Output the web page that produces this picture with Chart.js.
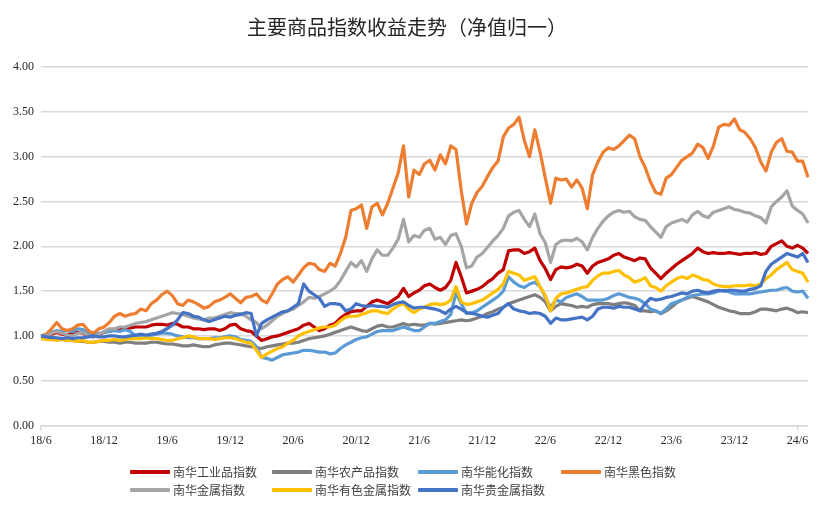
<!DOCTYPE html>
<html><head><meta charset="utf-8">
<script src="https://cdn.jsdelivr.net/npm/chart.js@4"></script>
<style>
html,body{margin:0;padding:0;background:#fff;}
#wrap{position:relative;width:831px;height:514px;overflow:hidden;}
#legend{position:absolute;left:0;top:0;width:831px;height:514px;pointer-events:none;font-family:"Noto Sans CJK SC","Noto Sans",sans-serif;font-size:12px;color:#404040;}
.item{position:absolute;display:flex;align-items:center;white-space:nowrap;height:16px;line-height:16px;}
.swatch{width:40px;height:4px;margin-right:3px;border-radius:1px;}
</style></head>
<body><div id="wrap"><canvas id="c" width="831" height="514"></canvas><div id="legend"></div></div>
<script>
// ---- data (semi-monthly, 2018-06 .. 2024-07, normalised NAV) ----
const startYear = 2018, startMonth = 6, pointCount = 147;
const tickEvery = 12; // one tick label every 6 months

const seriesNames = ["南华工业品指数","南华农产品指数","南华能化指数","南华黑色指数","南华金属指数","南华有色金属指数","南华贵金属指数"];
const seriesColors = ["#C00000","#7F7F7F","#5B9BD5","#ED7D31","#A5A5A5","#FFC000","#4472C4"];

const industrial = [1.00,1.00,1.02,1.04,1.02,1.01,1.03,1.04,1.03,1.00,
 0.99,1.02,1.04,1.06,1.07,1.08,1.08,1.09,1.10,1.10,
 1.10,1.12,1.13,1.13,1.12,1.14,1.13,1.10,1.10,1.08,
 1.08,1.07,1.08,1.08,1.06,1.08,1.12,1.13,1.08,1.06,
 1.05,1.00,0.95,0.97,0.99,1.00,1.02,1.04,1.06,1.08,
 1.12,1.14,1.10,1.06,1.08,1.12,1.14,1.20,1.24,1.27,
 1.28,1.28,1.33,1.38,1.40,1.38,1.36,1.40,1.44,1.53,
 1.44,1.48,1.51,1.56,1.58,1.54,1.51,1.54,1.62,1.82,
 1.66,1.48,1.50,1.52,1.55,1.60,1.64,1.70,1.74,1.95,
 1.96,1.96,1.92,1.94,1.98,1.84,1.75,1.63,1.74,1.77,
 1.76,1.77,1.80,1.78,1.70,1.78,1.82,1.84,1.86,1.90,
 1.92,1.88,1.86,1.84,1.87,1.86,1.76,1.70,1.64,1.70,
 1.75,1.80,1.84,1.88,1.92,1.98,1.94,1.92,1.93,1.92,
 1.92,1.93,1.92,1.91,1.92,1.92,1.93,1.91,1.92,2.00,
 2.03,2.06,2.00,1.98,2.01,1.98,1.92];

const agri = [0.97,0.98,0.99,0.97,0.96,0.95,0.95,0.94,0.94,0.93,
 0.93,0.94,0.94,0.93,0.93,0.92,0.93,0.93,0.92,0.92,
 0.92,0.93,0.93,0.92,0.91,0.91,0.90,0.89,0.89,0.90,
 0.89,0.88,0.88,0.90,0.91,0.92,0.92,0.91,0.90,0.89,
 0.88,0.87,0.86,0.88,0.89,0.90,0.91,0.92,0.92,0.93,
 0.95,0.97,0.98,0.99,1.00,1.02,1.04,1.06,1.08,1.10,
 1.08,1.06,1.05,1.08,1.11,1.12,1.10,1.10,1.12,1.14,
 1.12,1.13,1.12,1.12,1.14,1.13,1.14,1.15,1.16,1.17,
 1.18,1.17,1.18,1.20,1.22,1.25,1.27,1.30,1.32,1.36,
 1.38,1.40,1.42,1.44,1.46,1.43,1.38,1.28,1.33,1.36,
 1.35,1.34,1.32,1.33,1.32,1.35,1.36,1.36,1.36,1.35,
 1.36,1.37,1.36,1.34,1.28,1.28,1.27,1.28,1.25,1.28,
 1.32,1.37,1.40,1.42,1.44,1.42,1.40,1.38,1.35,1.32,
 1.30,1.28,1.27,1.25,1.25,1.25,1.27,1.30,1.30,1.29,
 1.28,1.30,1.31,1.29,1.26,1.27,1.26];

const energyChem = [1.00,1.02,1.04,1.06,1.05,1.06,1.05,1.08,1.07,1.04,
 1.02,1.03,1.04,1.05,1.06,1.05,1.07,1.05,1.00,1.00,
 1.00,1.01,1.02,1.03,1.03,1.02,1.00,0.99,0.98,0.98,
 0.97,0.97,0.97,0.98,0.98,0.99,1.00,0.99,0.96,0.95,
 0.94,0.88,0.76,0.75,0.73,0.76,0.79,0.80,0.81,0.82,
 0.84,0.84,0.83,0.82,0.82,0.80,0.81,0.86,0.90,0.93,
 0.96,0.98,0.99,1.02,1.05,1.06,1.06,1.06,1.08,1.10,
 1.08,1.06,1.06,1.10,1.14,1.14,1.16,1.18,1.24,1.48,
 1.36,1.25,1.26,1.28,1.32,1.36,1.40,1.44,1.50,1.66,
 1.60,1.56,1.54,1.58,1.60,1.55,1.43,1.32,1.40,1.38,
 1.43,1.45,1.47,1.44,1.40,1.40,1.40,1.40,1.42,1.45,
 1.47,1.45,1.43,1.42,1.40,1.36,1.30,1.28,1.25,1.30,
 1.36,1.38,1.40,1.43,1.45,1.46,1.47,1.47,1.48,1.50,
 1.51,1.49,1.47,1.47,1.47,1.47,1.48,1.49,1.50,1.51,
 1.51,1.53,1.54,1.50,1.49,1.50,1.42];

const black = [1.00,1.02,1.08,1.15,1.08,1.06,1.08,1.12,1.13,1.06,
 1.03,1.08,1.10,1.15,1.22,1.25,1.22,1.24,1.25,1.30,
 1.28,1.36,1.40,1.46,1.50,1.45,1.36,1.34,1.40,1.38,
 1.35,1.31,1.33,1.38,1.40,1.43,1.47,1.42,1.37,1.43,
 1.44,1.47,1.40,1.37,1.47,1.58,1.63,1.66,1.60,1.68,
 1.76,1.81,1.80,1.74,1.72,1.81,1.78,1.92,2.10,2.40,
 2.42,2.46,2.20,2.44,2.48,2.35,2.48,2.65,2.82,3.12,
 2.55,2.85,2.80,2.92,2.96,2.85,3.02,2.92,3.12,3.08,
 2.62,2.25,2.48,2.60,2.67,2.78,2.88,2.95,3.22,3.32,
 3.36,3.44,3.18,3.00,3.30,3.05,2.76,2.48,2.76,2.74,
 2.75,2.66,2.74,2.65,2.42,2.80,2.94,3.05,3.10,3.08,
 3.12,3.18,3.24,3.20,3.00,2.88,2.72,2.60,2.58,2.76,
 2.80,2.88,2.96,3.00,3.04,3.14,3.10,2.98,3.12,3.33,
 3.36,3.35,3.42,3.30,3.27,3.20,3.10,2.94,2.84,3.05,
 3.16,3.20,3.06,3.05,2.95,2.95,2.77];

const metals = [1.00,1.00,1.03,1.05,1.03,1.01,1.00,1.03,1.04,1.00,
 0.99,1.02,1.05,1.08,1.08,1.10,1.10,1.12,1.14,1.15,
 1.16,1.18,1.20,1.22,1.24,1.26,1.25,1.24,1.22,1.20,
 1.19,1.18,1.20,1.20,1.22,1.24,1.26,1.25,1.25,1.22,
 1.18,1.15,1.08,1.12,1.17,1.22,1.25,1.28,1.30,1.34,
 1.38,1.43,1.42,1.44,1.47,1.50,1.54,1.62,1.72,1.82,
 1.77,1.84,1.72,1.86,1.96,1.90,1.90,1.98,2.08,2.30,
 2.05,2.12,2.10,2.18,2.20,2.08,2.10,2.02,2.12,2.14,
 2.00,1.76,1.78,1.88,1.92,1.99,2.06,2.12,2.20,2.34,
 2.38,2.40,2.30,2.22,2.36,2.14,2.04,1.82,2.02,2.06,
 2.07,2.06,2.09,2.05,1.96,2.10,2.20,2.28,2.34,2.38,
 2.40,2.38,2.39,2.33,2.30,2.29,2.22,2.16,2.10,2.22,
 2.26,2.28,2.30,2.27,2.35,2.39,2.34,2.32,2.38,2.40,
 2.42,2.44,2.41,2.40,2.38,2.37,2.34,2.32,2.26,2.44,
 2.50,2.55,2.62,2.45,2.40,2.36,2.26];

const nonferrous = [0.97,0.96,0.96,0.95,0.96,0.95,0.95,0.94,0.95,0.93,
 0.93,0.94,0.95,0.95,0.96,0.95,0.96,0.97,0.97,0.97,
 0.98,0.97,0.97,0.96,0.95,0.95,0.97,0.98,1.00,0.99,
 0.97,0.97,0.97,0.96,0.97,0.98,0.98,0.97,0.95,0.93,
 0.92,0.84,0.76,0.80,0.83,0.86,0.88,0.92,0.95,1.00,
 1.03,1.05,1.07,1.09,1.10,1.10,1.12,1.17,1.21,1.22,
 1.22,1.24,1.26,1.28,1.28,1.26,1.25,1.30,1.34,1.36,
 1.30,1.26,1.30,1.32,1.35,1.36,1.35,1.36,1.40,1.55,
 1.38,1.35,1.36,1.38,1.40,1.44,1.48,1.52,1.58,1.72,
 1.70,1.68,1.62,1.64,1.66,1.55,1.45,1.28,1.42,1.47,
 1.48,1.50,1.52,1.54,1.55,1.62,1.67,1.70,1.70,1.72,
 1.73,1.68,1.65,1.60,1.62,1.65,1.56,1.54,1.50,1.56,
 1.60,1.64,1.66,1.64,1.68,1.66,1.63,1.62,1.58,1.56,
 1.55,1.55,1.56,1.56,1.56,1.57,1.56,1.58,1.64,1.68,
 1.74,1.78,1.82,1.74,1.72,1.70,1.60];

const precious = [1.00,0.99,0.98,0.98,0.97,0.98,0.97,0.98,0.98,0.99,
 1.00,0.99,0.99,1.00,1.00,0.99,0.99,1.00,1.01,1.02,
 1.01,1.02,1.03,1.05,1.08,1.12,1.18,1.26,1.25,1.22,
 1.21,1.18,1.16,1.18,1.20,1.22,1.21,1.23,1.24,1.26,
 1.25,1.00,1.14,1.18,1.21,1.24,1.27,1.28,1.32,1.36,
 1.58,1.50,1.46,1.42,1.33,1.36,1.36,1.35,1.28,1.30,
 1.36,1.34,1.33,1.34,1.33,1.33,1.32,1.35,1.37,1.38,
 1.34,1.31,1.32,1.32,1.31,1.30,1.28,1.25,1.30,1.33,
 1.30,1.26,1.25,1.24,1.22,1.21,1.23,1.25,1.32,1.36,
 1.30,1.28,1.27,1.25,1.26,1.25,1.22,1.14,1.20,1.18,
 1.18,1.19,1.20,1.21,1.18,1.22,1.30,1.32,1.32,1.31,
 1.33,1.32,1.32,1.30,1.28,1.36,1.42,1.40,1.41,1.43,
 1.44,1.46,1.48,1.47,1.50,1.51,1.49,1.48,1.50,1.51,
 1.50,1.51,1.51,1.50,1.50,1.52,1.53,1.56,1.72,1.80,
 1.84,1.88,1.92,1.90,1.88,1.92,1.82];

const seriesValues = [industrial, agri, energyChem, black, metals, nonferrous, precious];

// category labels: semi-monthly dates
const labels = [];
for (let k = 0; k < pointCount; k++) {
  const m0 = startMonth - 1 + Math.floor(k / 2);
  const y = startYear + Math.floor(m0 / 12);
  const m = (m0 % 12) + 1;
  labels.push(y + "-" + String(m).padStart(2, "0") + "-" + (k % 2 ? "16" : "01"));
}
function shortLabel(s) { const p = s.split("-"); return p[0].slice(2) + "/" + parseInt(p[1], 10); }

const datasets = seriesNames.map((name, i) => ({
  label: name,
  data: seriesValues[i],
  borderColor: seriesColors[i],
  backgroundColor: seriesColors[i],
  borderWidth: 3.2,
  pointRadius: 0,
  tension: 0,
  fill: false,
  borderJoinStyle: "round",
  order: seriesNames.length - i
}));

const tickFont = { family: "'Liberation Serif', 'Times New Roman', serif", size: 12 };

const chart = new Chart(document.getElementById("c"), {
  type: "line",
  data: { labels, datasets },
  options: {
    responsive: false,
    animation: false,
    devicePixelRatio: 1,
    layout: { padding: { left: 6, right: 23, top: 0, bottom: 63 } },
    plugins: {
      legend: { display: false },
      tooltip: { enabled: false },
      title: {
        display: true,
        text: "主要商品指数收益走势（净值归一）",
        color: "#262626",
        font: { family: "'Noto Sans CJK SC', sans-serif", size: 20, weight: "normal" },
        padding: { top: 15, bottom: 28 }
      }
    },
    scales: {
      x: {
        type: "category",
        grid: {
          drawOnChartArea: false,
          drawTicks: true,
          tickLength: 5,
          lineWidth: 1.5,
          color: (ctx) => (ctx.index % tickEvery === 0 ? "#d9d9d9" : "rgba(0,0,0,0)")
        },
        border: { color: "#d9d9d9", width: 1.5 },
        ticks: {
          autoSkip: false,
          maxRotation: 0,
          minRotation: 0,
          padding: 3,
          color: "#262626",
          font: tickFont,
          callback: function (v, i) { return i % tickEvery === 0 ? shortLabel(labels[i]) : null; }
        }
      },
      y: {
        min: 0,
        max: 4,
        grid: { color: "#d9d9d9", lineWidth: 1.5, drawTicks: false },
        border: { display: false },
        ticks: {
          stepSize: 0.5,
          padding: 7,
          color: "#262626",
          font: tickFont,
          callback: (v) => Number(v).toFixed(2)
        }
      }
    }
  }
});

// HTML legend built from the chart's datasets (grid of 4 columns)
const legendEl = document.getElementById("legend");
const colX = [130, 272, 418, 561];
const rowY = [464, 482];
chart.data.datasets.forEach((ds, i) => {
  const item = document.createElement("div");
  item.className = "item";
  item.style.left = colX[i % 4] + "px";
  item.style.top = rowY[Math.floor(i / 4)] + "px";
  const sw = document.createElement("span");
  sw.className = "swatch";
  sw.style.background = ds.borderColor;
  const tx = document.createElement("span");
  tx.textContent = ds.label;
  item.appendChild(sw);
  item.appendChild(tx);
  legendEl.appendChild(item);
});
</script>
</body></html>
